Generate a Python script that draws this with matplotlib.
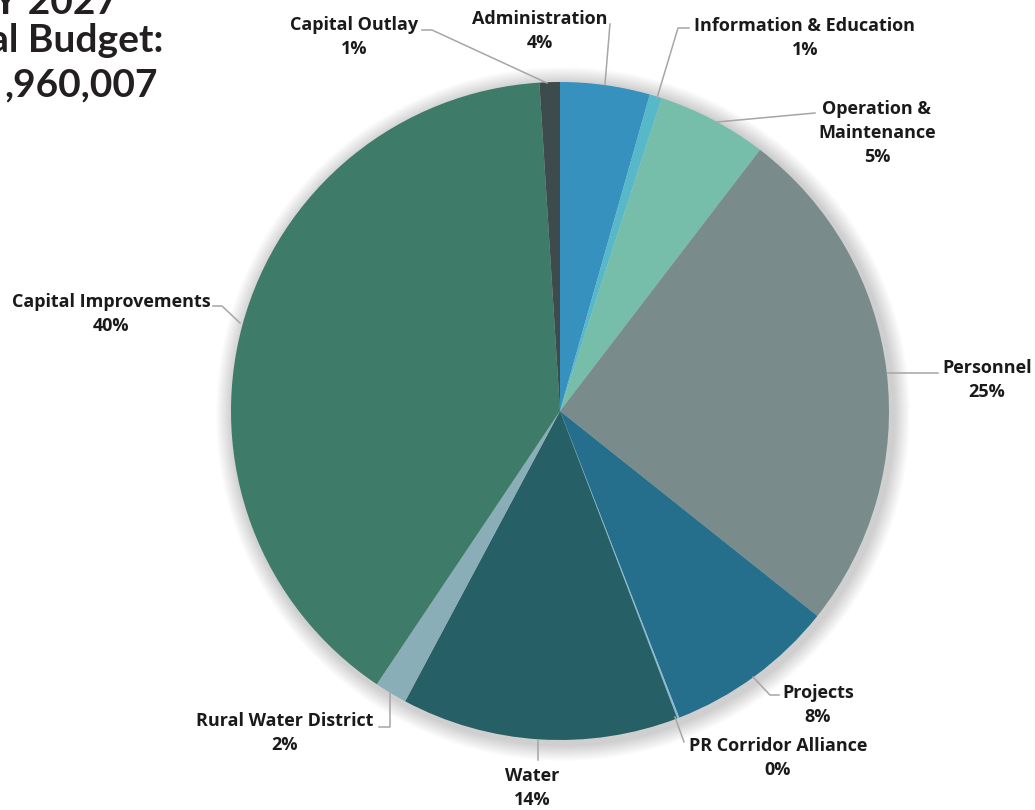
import matplotlib.pyplot as plt
import numpy as np

# Budget shares (percent), clockwise from 12 o'clock
categories = ["Administration", "Information & Education", "Operation &\nMaintenance",
              "Personnel", "Projects", "PR Corridor Alliance", "Water",
              "Rural Water District", "Capital Improvements", "Capital Outlay"]
shares = [4.4, 0.6, 5.4, 25.3, 8.4, 0.1, 13.6, 1.6, 39.6, 1.0]
colors = ["#3791BF", "#56B8C9", "#76BEA9", "#798C8B", "#256F8D",
          "#86BCD2", "#265F66", "#89AEB8", "#3E7B69", "#3E4B4C"]

title_lines = ["FY 2027", "Total Budget:", ",960,007"]

# label text centre (image px) and leader line path (image px, from wedge outward)
label_pos = [(540, 31), (805, 38), (877, 133), (987, 380), (818, 705),
             (778, 758), (532, 788), (285, 733), (111, 314), (354, 37)]
leaders = [
    [(605, 84), (610, 24)],
    [(657, 98), (678, 28), (689, 28)],
    [(717, 122), (815, 113)],
    [(887, 373), (938, 373)],
    [(753, 677), (770, 695), (779, 695)],
    [(675, 717), (684, 742)],
    [(538, 740), (538, 760)],
    [(390, 693), (390, 727), (379, 727)],
    [(240, 323), (222, 306), (213, 306)],
    [(547, 83), (432, 30), (422, 30)],
]

W, H = 1035, 810
cx, cy, R = 560, 411, 329

fig = plt.figure(figsize=(W / 100, H / 100), dpi=100)
ax = fig.add_axes([0, 0, 1, 1])

# soft shadow around the pie
for i in range(16):
    ax.add_patch(plt.Circle((cx + 3, H - cy - 3), R + 18 - i, color="black",
                            alpha=0.01, lw=0, zorder=0))

ax.pie(shares, colors=colors, startangle=90, counterclock=False,
       center=(cx, H - cy), radius=R, frame=True,
       wedgeprops=dict(linewidth=0))
ax.set_xlim(0, W)
ax.set_ylim(0, H)
ax.set_aspect("equal")
ax.axis("off")

font = dict(family=["Open Sans", "DejaVu Sans"], fontweight="bold",
            fontsize=13, color="#1a1a1a")
for name, share, (tx, ty), path in zip(categories, shares, label_pos, leaders):
    txt = f"{name}\n{round(share)}%"
    ax.text(tx, H - ty, txt, ha="center", va="center", linespacing=1.45, **font)
    xs = [p[0] for p in path]
    ys = [H - p[1] for p in path]
    ax.plot(xs, ys, color="#A6A6A6", lw=1.1, zorder=5)

# partly cropped title at top left
title_font = dict(family=["Lato", "DejaVu Sans"], fontweight="bold",
                  fontsize=28, color="#231F20")
ax.text(118, H - 14, title_lines[0], ha="right", va="baseline", **title_font)
ax.text(163, H - 52, title_lines[1], ha="right", va="baseline", **title_font)
ax.text(158, H - 96, title_lines[2], ha="right", va="baseline", **title_font)

fig.savefig("out.png", dpi=100, facecolor="white")
